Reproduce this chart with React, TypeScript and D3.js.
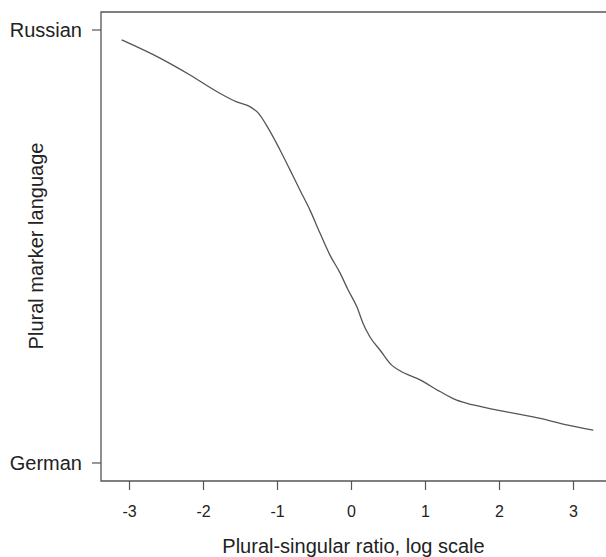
import React from "react";
import * as d3 from "d3";

const xTicks = [-3, -2, -1, 0, 1, 2, 3];
const yCategories = ["German", "Russian"];
const curveX = [-3.105, -2.588, -2.182, -1.822, -1.551, -1.372, -1.259, -1.128, -0.966, -0.831, -0.696, -0.561, -0.426, -0.291, -0.155, -0.047, 0.074, 0.155, 0.25, 0.385, 0.543, 0.655, 0.926, 1.196, 1.422, 1.646, 2.097, 2.551, 2.908, 3.268];
const curveY = [0.977, 0.935, 0.896, 0.858, 0.834, 0.823, 0.808, 0.774, 0.723, 0.677, 0.63, 0.584, 0.531, 0.48, 0.439, 0.4, 0.36, 0.323, 0.291, 0.261, 0.226, 0.213, 0.192, 0.165, 0.145, 0.134, 0.118, 0.103, 0.088, 0.076];

export default function App() {
  const W = 606, H = 557;
  const left = 101, top = 12, bottom = 481, right = 607;
  const x = d3.scaleLinear().domain([-3, 3]).range([129.5, 573.5]);
  const y = d3.scaleLinear().domain([0, 1]).range([463, 30]);
  const pts = curveX.map((v, i) => [v, curveY[i]] as [number, number]);
  const line = d3.line<[number, number]>().x(d => x(d[0])).y(d => y(d[1])).curve(d3.curveMonotoneX);
  const font = "Liberation Sans, Arial, Helvetica, sans-serif";
  const axisCol = "#555";
  const textCol = "#222";
  return (
    <svg width={W} height={H} style={{ position: "absolute", left: 0, top: 0, background: "#fff" }} fontFamily={font}>
      <rect x={0} y={0} width={W} height={H} fill="#fff" />
      <path d={`M${left},${top}H${right}V${bottom}H${left}Z`} fill="none" stroke={axisCol} strokeWidth={1.3} />
      {xTicks.map(t => (
        <g key={t}>
          <line x1={x(t)} x2={x(t)} y1={bottom} y2={bottom + 9} stroke={axisCol} strokeWidth={1.2} />
          <text x={x(t)} y={516.5} textAnchor="middle" fontSize={16} fill={textCol}>{t}</text>
        </g>
      ))}
      {yCategories.map((c, i) => (
        <g key={c}>
          <line x1={left - 9} x2={left} y1={y(i)} y2={y(i)} stroke={axisCol} strokeWidth={1.2} />
          <text x={82} y={y(i) + 7.2} textAnchor="end" fontSize={20} fill={textCol}>{c}</text>
        </g>
      ))}
      <path d={line(pts) || ""} fill="none" stroke="#555" strokeWidth={1.3} />
      <text x={353.5} y={553} textAnchor="middle" fontSize={20} fill={textCol}>Plural-singular ratio, log scale</text>
      <text transform={`translate(43,246) rotate(-90)`} textAnchor="middle" fontSize={20} fill={textCol}>Plural marker language</text>
    </svg>
  );
}
